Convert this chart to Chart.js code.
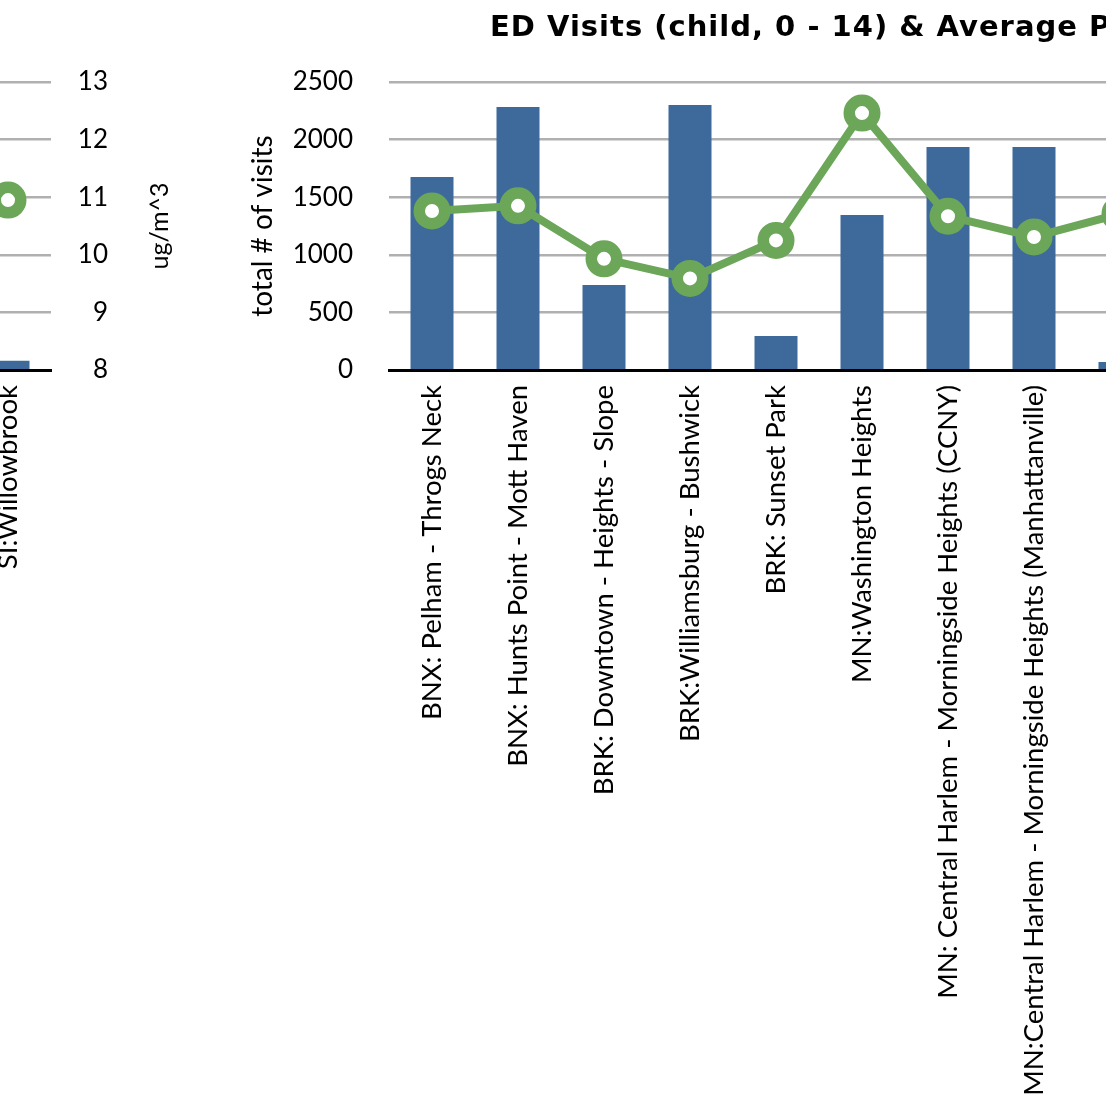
<!DOCTYPE html>
<html>
<head>
<meta charset="utf-8">
<title>ED Visits (child, 0 - 14) &amp; Average PM2.5</title>
<script src="https://cdn.jsdelivr.net/npm/chart.js@4.4.1/dist/chart.umd.min.js"></script>
<style>
  html, body { margin: 0; padding: 0; background: #fff; }
  body { position: relative; width: 1106px; height: 1107px; overflow: hidden; }
  #prevChart { position: absolute; left: -35px; top: 0; }
  #edChart { position: absolute; left: 240px; top: 0; }
  .chart-title {
    position: absolute; left: 490px; top: 9px;
    font: bold 29px "DejaVu Sans", Lato, sans-serif;
    letter-spacing: 1px;
    white-space: nowrap; color: #000;
  }
</style>
</head>
<body>
<canvas id="prevChart" width="236" height="1107"></canvas>
<canvas id="edChart" width="1023" height="1107"></canvas>
<div class="chart-title">ED Visits (child, 0 - 14) &amp; Average PM2.5</div>
<script>
// tail end of the previous panel (Staten Island)
const prevNeighborhoods = ['SI:Willowbrook'];
const prevVisits = [80];
const prevPm = [10.95];

// child ED visits and average PM2.5 by neighborhood
const neighborhoods = [
  'BNX: Pelham - Throgs Neck',
  'BNX: Hunts Point - Mott Haven',
  'BRK: Downtown - Heights - Slope',
  'BRK:Williamsburg - Bushwick',
  'BRK: Sunset Park',
  'MN:Washington Heights',
  'MN: Central Harlem - Morningside Heights (CCNY)',
  'MN:Central Harlem - Morningside Heights (Manhattanville)',
  'MN: East Harlem'
];
const edVisits = [1675, 2283, 738, 2300, 295, 1345, 1936, 1936, 70];
const avgPm = [10.76, 10.85, 9.93, 9.59, 10.25, 12.46, 10.67, 10.31, 10.71];

// axis ticks
const visitTicks = [0, 500, 1000, 1500, 2000, 2500];
const pmTicks = [8, 9, 10, 11, 12, 13];

const BAR = '#3d6a9a';
const LINE = '#6ba659';
const GRID = '#b0b0b0';
const FONT = 'Lato, "Open Sans", sans-serif';

// secondary axis title reads bottom-to-top, so it is drawn by hand
const pmTitle = {
  id: 'pmTitle',
  afterDraw(chart, args, opts) {
    const s = chart.scales.pm;
    if (!s.options.display) return;
    const c = chart.ctx;
    c.save();
    c.translate(s.left + opts.offset, (s.top + s.bottom) / 2);
    c.rotate(-Math.PI / 2);
    c.font = '25px ' + FONT;
    c.fillStyle = '#000';
    c.textAlign = 'center';
    c.textBaseline = 'middle';
    c.fillText(opts.text, 0, 0);
    c.restore();
  }
};

function buildChart(canvas, o) {
  return new Chart(canvas, {
    data: {
      labels: o.labels,
      datasets: [
        {
          type: 'line',
          label: 'Average PM2.5',
          data: o.pm,
          yAxisID: 'pm',
          borderColor: LINE,
          borderWidth: 8,
          pointRadius: 12.75,
          pointBorderWidth: 11.5,
          pointBackgroundColor: '#fff',
          pointBorderColor: LINE,
          tension: 0,
          order: 0
        },
        {
          type: 'bar',
          label: 'ED visits',
          data: o.visits,
          yAxisID: 'visits',
          backgroundColor: BAR,
          categoryPercentage: 1,
          barPercentage: 0.5,
          order: 1
        }
      ]
    },
    options: {
      responsive: false,
      animation: false,
      events: [],
      layout: { autoPadding: false, padding: { top: 82, left: 0, right: o.rightPad, bottom: 0 } },
      plugins: {
        legend: { display: false },
        tooltip: { enabled: false },
        pmTitle: { text: 'ug/m^3', offset: o.pmTitleOffset }
      },
      scales: {
        x: {
          grid: { display: false, drawTicks: false },
          border: { color: '#000', width: 3, z: 1 },
          ticks: {
            autoSkip: false, minRotation: 90, maxRotation: 90, padding: 15,
            color: '#000', font: { family: FONT, size: 27.5 }
          },
          afterFit: s => { s.height = 737; s.paddingLeft = 0; s.paddingRight = 0; }
        },
        visits: {
          position: 'left',
          display: o.showVisits,
          min: visitTicks[0],
          max: visitTicks[visitTicks.length - 1],
          grid: { display: false, drawTicks: false },
          border: { display: false },
          ticks: {
            stepSize: visitTicks[1] - visitTicks[0], padding: 36,
            callback: v => String(v),
            color: '#000', font: { family: FONT, size: 26 }
          },
          title: {
            display: true, text: 'total # of visits', padding: { top: 6, bottom: 0 },
            color: '#000', font: { family: FONT, size: 28 }
          },
          afterFit: s => { s.width = o.visitsWidth; }
        },
        pm: {
          position: 'right',
          min: pmTicks[0],
          max: pmTicks[pmTicks.length - 1],
          grid: {
            drawTicks: false, lineWidth: 2.5,
            color: c => c.tick && c.tick.value === pmTicks[0] ? 'rgba(0,0,0,0)' : GRID
          },
          border: { display: false },
          ticks: {
            stepSize: pmTicks[1] - pmTicks[0], padding: 20, crossAlign: 'far',
            callback: v => String(v),
            color: '#000', font: { family: FONT, size: 26 }
          },
          afterFit: s => { s.width = o.pmWidth; }
        }
      }
    },
    plugins: [pmTitle]
  });
}

buildChart(document.getElementById('prevChart'), {
  labels: prevNeighborhoods, visits: prevVisits, pm: prevPm,
  showVisits: false, visitsWidth: 0, pmWidth: 57, rightPad: 93, pmTitleOffset: 109
});

buildChart(document.getElementById('edChart'), {
  labels: neighborhoods, visits: edVisits, pm: avgPm,
  showVisits: true, visitsWidth: 149, pmWidth: 57, rightPad: 43, pmTitleOffset: 109
});
</script>
</body>
</html>
